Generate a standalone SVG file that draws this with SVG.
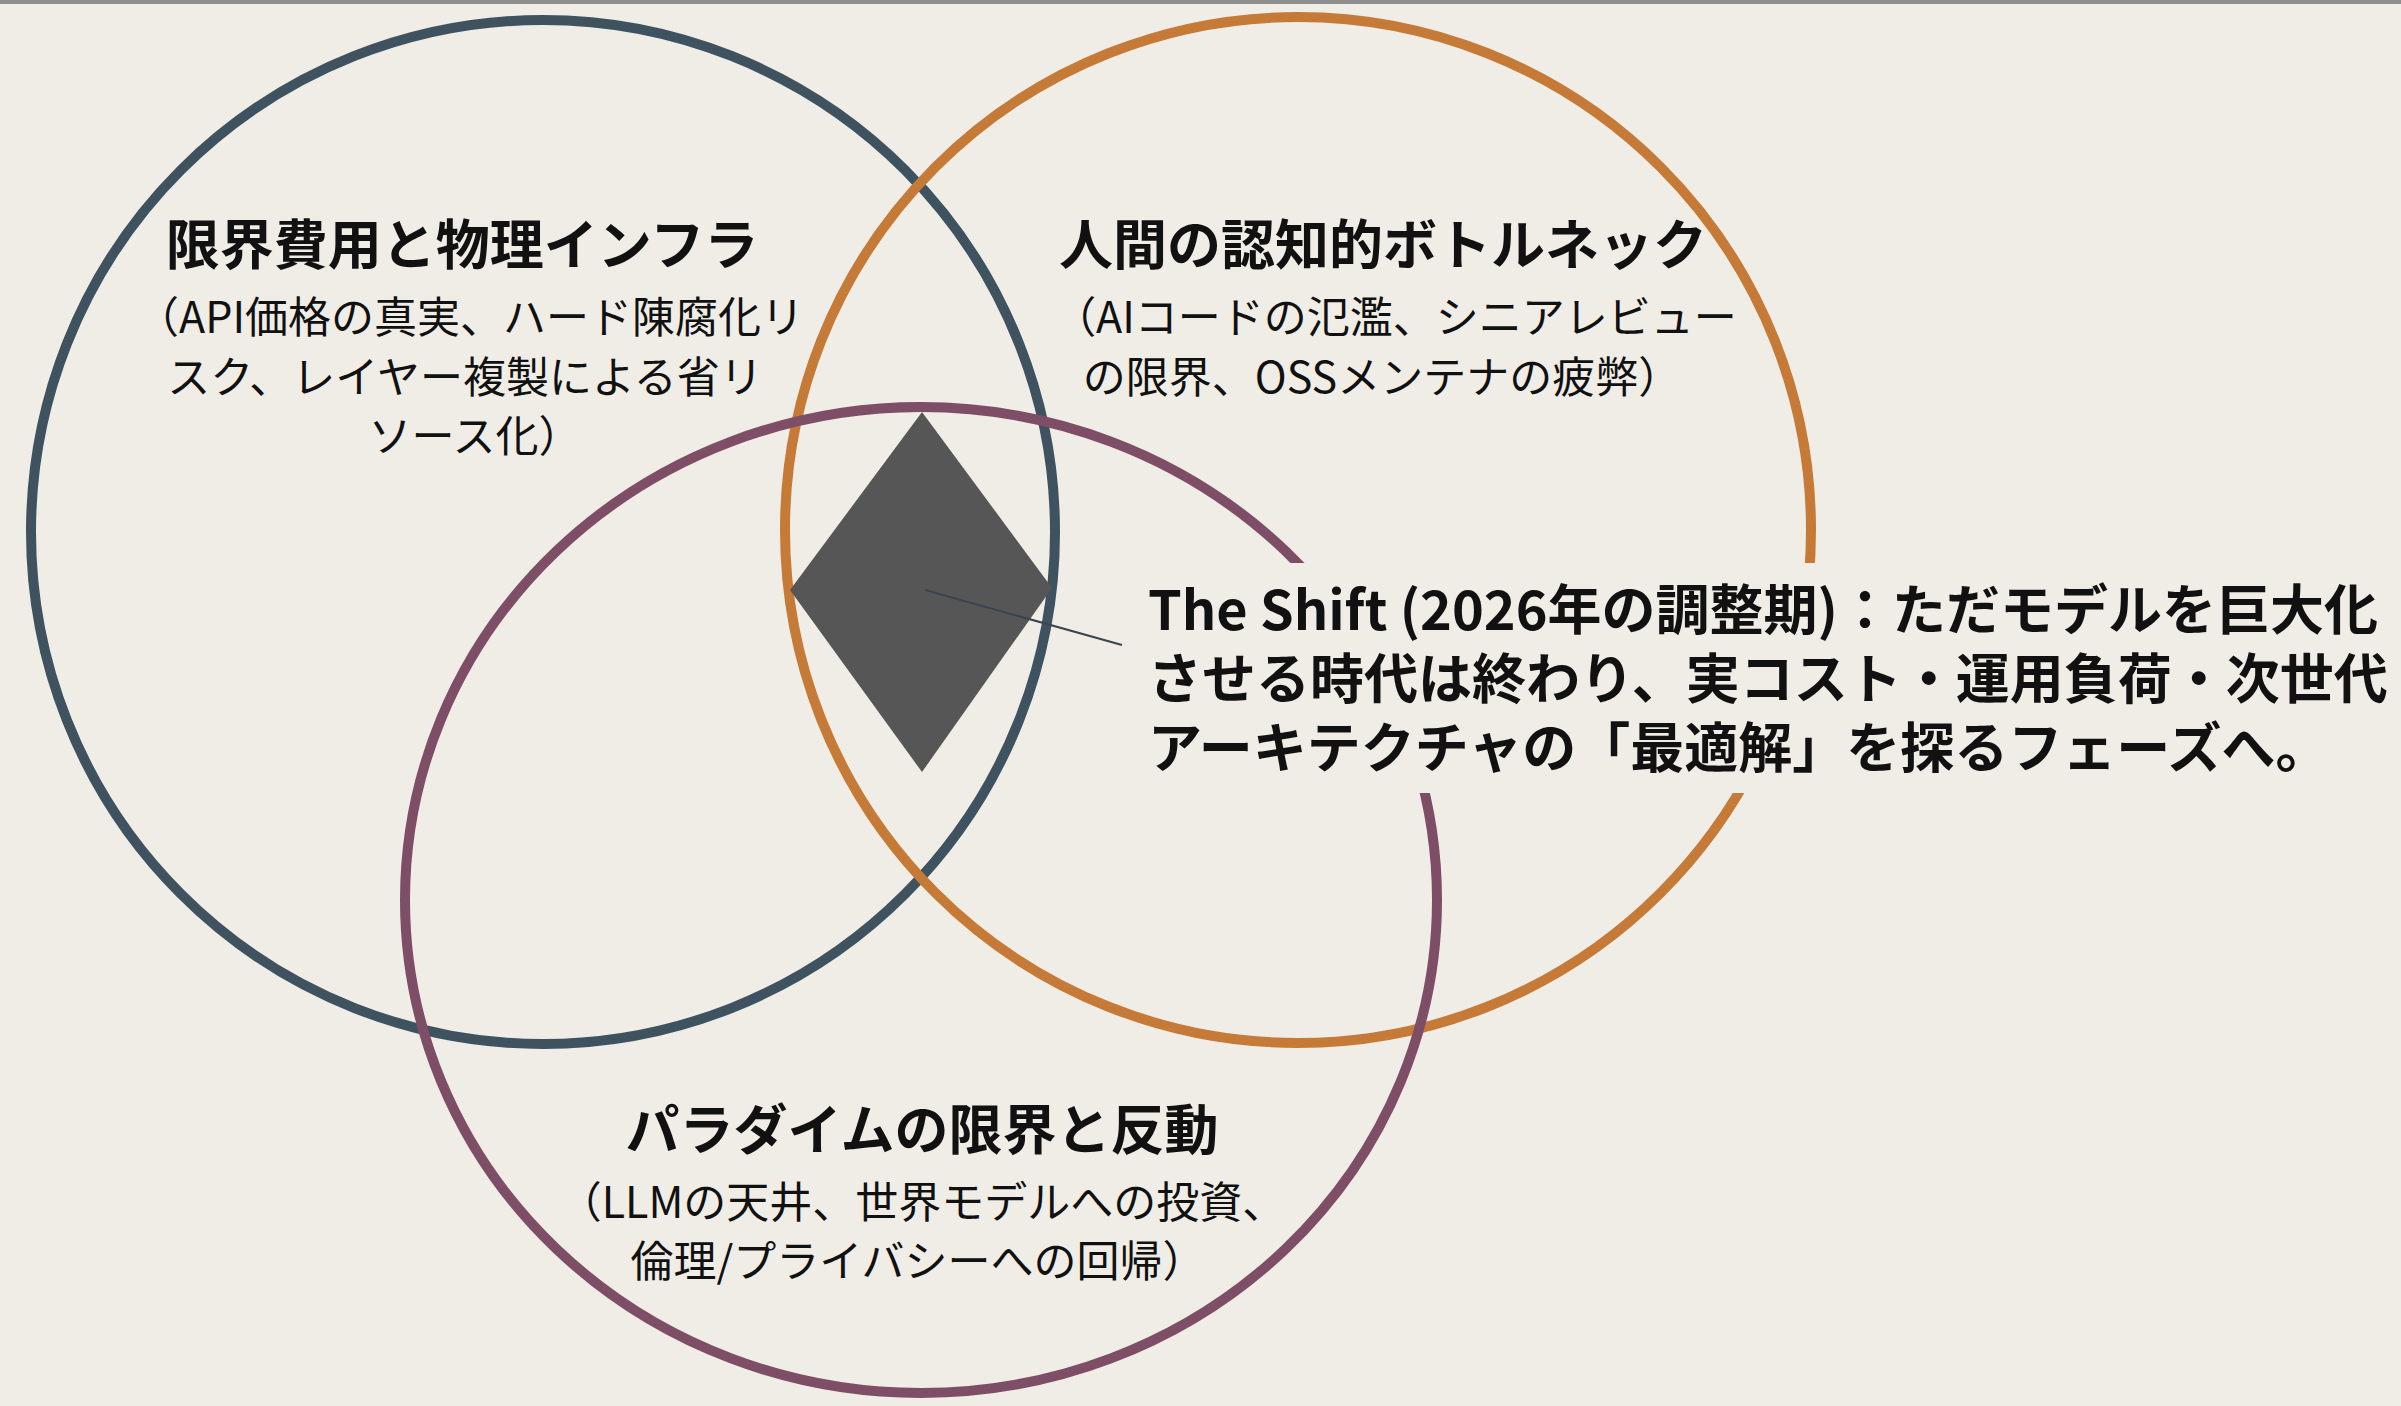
<svg xmlns="http://www.w3.org/2000/svg" width="2401" height="1406" viewBox="0 0 2401 1406">
<style>
.t{font-family:"Noto Sans CJK JP","Noto Sans",sans-serif;font-weight:bold;font-size:54px;fill:#111;text-anchor:middle}
.s{font-family:"Noto Sans CJK JP","Noto Sans",sans-serif;font-weight:normal;font-size:43px;fill:#111;text-anchor:middle}
.m{font-family:"Noto Sans CJK JP","Noto Sans",sans-serif;font-weight:bold;font-size:54px;fill:#111}
.c{fill:none;stroke-width:10}
</style>
<rect width="2401" height="1406" fill="#f0ede6"/>
<rect width="2401" height="4" fill="#8e8e8c"/>
<g id="circle-infra"><circle class="c" cx="543" cy="532" r="512" stroke="#3f5260"/></g>
<g id="circle-human"><circle class="c" cx="1298" cy="530" r="513" stroke="#c57a37"/></g>
<g id="circle-paradigm"><ellipse class="c" cx="921" cy="900" rx="516" ry="493" stroke="#7e4d66"/></g>
<g id="shift-diamond"><polygon points="922,412 1052,588 922,772 790,590" fill="#565656"/></g>
<g id="connectors"><line x1="925" y1="590" x2="1122" y2="645" stroke="#3a4550" stroke-width="2"/></g>
<g id="label-infra">
<text class="t" x="462" y="265">限界費用と物理インフラ</text>
<text class="s" x="470" y="333">（API価格の真実、ハード陳腐化リ</text>
<text class="s" x="465" y="393">スク、レイヤー複製による省リ</text>
<text class="s" x="475" y="452">ソース化）</text>
</g>
<g id="label-human">
<text class="t" x="1383" y="265">人間の認知的ボトルネック</text>
<text class="s" x="1395" y="333">（AIコードの氾濫、シニアレビュー</text>
<text class="s" x="1382" y="393">の限界、OSSメンテナの疲弊）</text>
</g>
<g id="label-paradigm">
<text class="t" x="922" y="1150">パラダイムの限界と反動</text>
<text class="s" x="922" y="1218">（LLMの天井、世界モデルへの投資、</text>
<text class="s" x="918" y="1277">倫理/プライバシーへの回帰）</text>
</g>
<g id="label-shift">
<rect x="1130" y="563" width="1265" height="230" fill="#f0ede6"/>
<text class="m" x="1148" y="630">The Shift (2026年の調整期)：ただモデルを巨大化</text>
<text class="m" x="1148" y="699">させる時代は終わり、実コスト・運用負荷・次世代</text>
<text class="m" x="1148" y="768">アーキテクチャの「最適解」を探るフェーズへ。</text>
</g>
</svg>
